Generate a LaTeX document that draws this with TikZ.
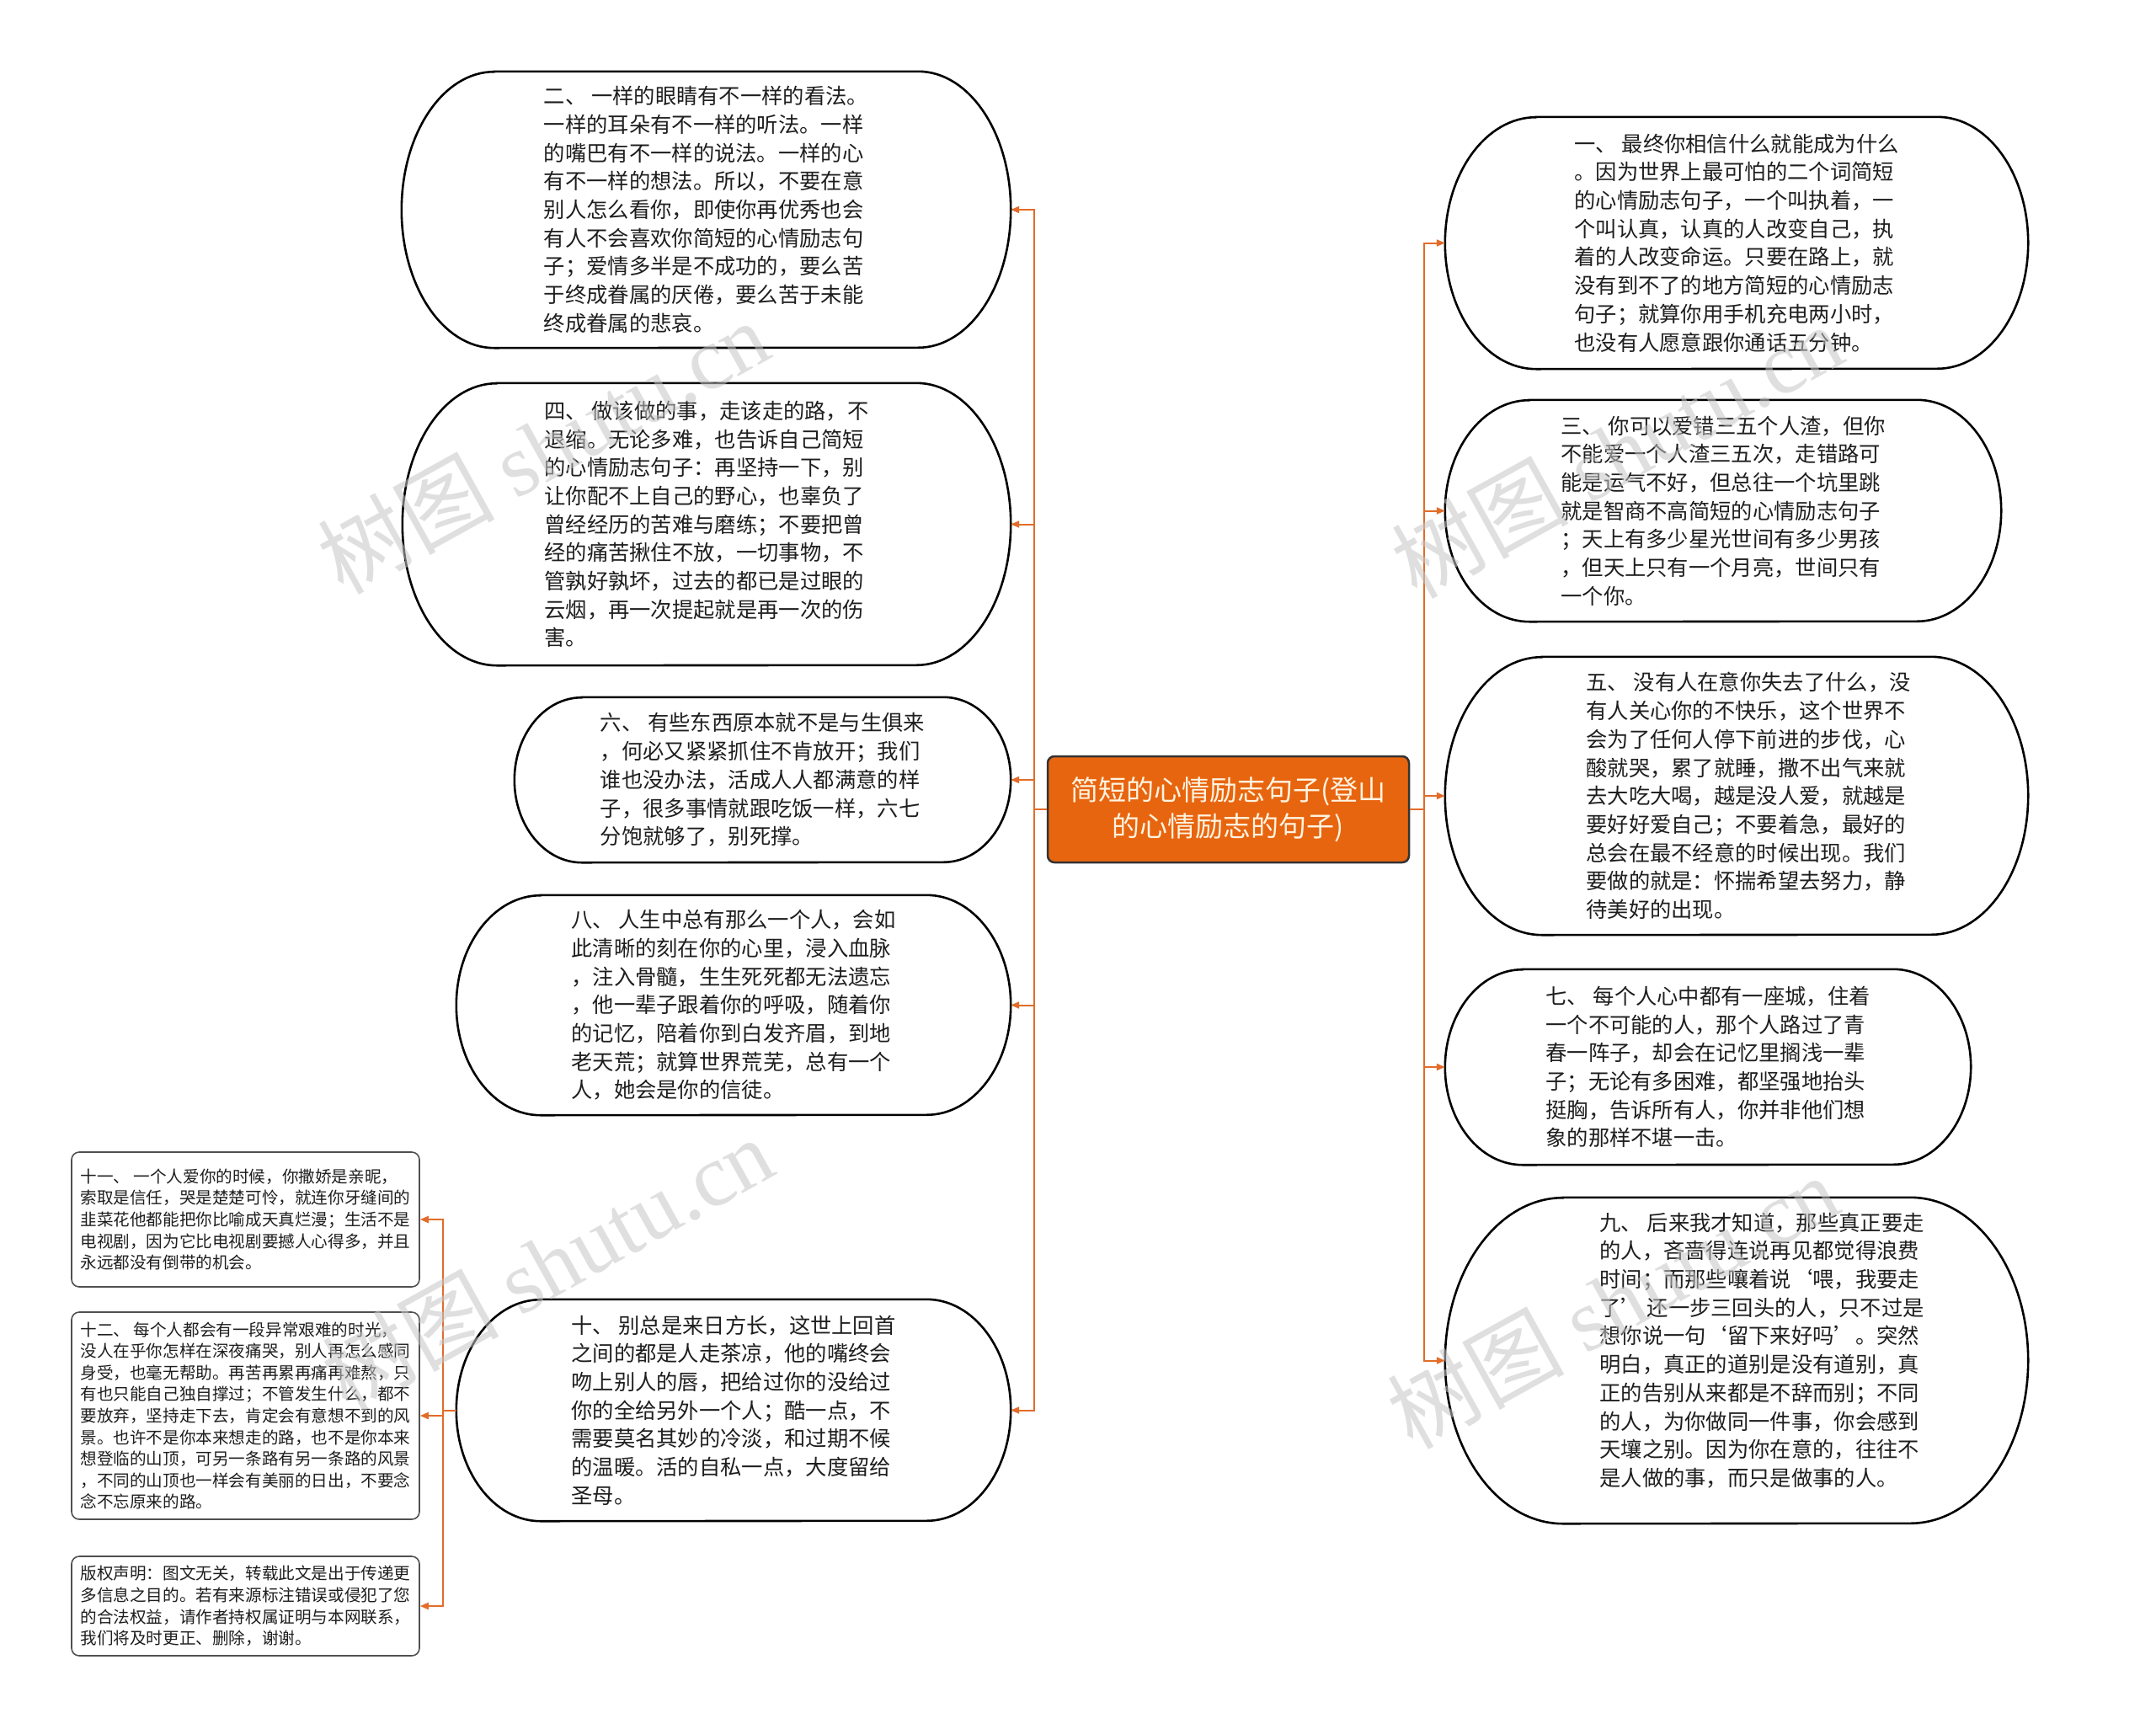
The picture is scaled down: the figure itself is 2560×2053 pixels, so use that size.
\documentclass[tikz,border=0pt]{standalone}
\usepackage{fontspec}
\setmainfont{Noto Sans CJK SC}
\newfontfamily\wmfont{Liberation Serif}
\usetikzlibrary{arrows.meta}
\definecolor{conncol}{RGB}{226,108,40}
\definecolor{corange}{RGB}{232,101,15}
\definecolor{ctext}{RGB}{255,244,225}
\definecolor{txt}{RGB}{30,30,30}
\definecolor{boxline}{RGB}{80,80,80}
\newcommand{\stadium}[3]{%
  \draw[stadline] ([xshift=#2pt]#1.north west) -- ([xshift=-#2pt]#1.north east)
    arc[start angle=90,end angle=-90,x radius=#2pt,y radius=#3pt]
    -- ([xshift=#2pt]#1.south west)
    arc[start angle=270,end angle=90,x radius=#2pt,y radius=#3pt] -- cycle;}
\begin{document}
\begin{tikzpicture}[x=1pt,y=1pt,
  conn/.style={draw=conncol,line width=2pt,-{Triangle[length=10pt,width=8pt]}},
  stadline/.style={draw=black,line width=2.6pt},
  stadnode/.style={inner sep=0pt,align=left,text=txt,font=\fontsize{25.3}{33.7}\selectfont},
  smallbox/.style={draw=boxline,line width=1.6pt,rounded corners=9pt,inner sep=0pt,align=left,text=txt,font=\fontsize{19.6}{25.6}\selectfont},
  centernode/.style={draw=black!80,fill=corange,line width=2.5pt,rounded corners=8pt,inner sep=0pt,align=center,text=ctext,font=\fontsize{33}{43}\selectfont},
  wm/.style={text=gray!45,opacity=0.55,inner sep=0pt,font=\fontsize{105}{105}\selectfont}]
\useasboundingbox (0,0) rectangle (2560,-2053);
\fill[white] (0,0) rectangle (2560,-2053);

% center
\node[centernode,minimum width=429pt,minimum height=126pt] (c) at (1458.5,-961) {简短的心情励志句子(登山\\的心情励志的句子)};

% left nodes
\node[stadnode,minimum width=723pt,minimum height=328pt] (n2) at (838.5,-249) {二、 一样的眼睛有不一样的看法。\\一样的耳朵有不一样的听法。一样\\的嘴巴有不一样的说法。一样的心\\有不一样的想法。所以，不要在意\\别人怎么看你，即使你再优秀也会\\有人不会喜欢你简短的心情励志句\\子；爱情多半是不成功的，要么苦\\于终成眷属的厌倦，要么苦于未能\\终成眷属的悲哀。};
\stadium{n2}{110}{164}

\node[stadnode,minimum width=722pt,minimum height=335pt] (n4) at (839,-622.5) {四、 做该做的事，走该走的路，不\\退缩。无论多难，也告诉自己简短\\的心情励志句子：再坚持一下，别\\让你配不上自己的野心，也辜负了\\曾经经历的苦难与磨练；不要把曾\\经的痛苦揪住不放，一切事物，不\\管孰好孰坏，过去的都已是过眼的\\云烟，再一次提起就是再一次的伤\\害。};
\stadium{n4}{112}{167.5}

\node[stadnode,minimum width=589pt,minimum height=196pt] (n6) at (905.5,-926) {六、 有些东西原本就不是与生俱来\\，何必又紧紧抓住不肯放开；我们\\谁也没办法，活成人人都满意的样\\子，很多事情就跟吃饭一样，六七\\分饱就够了，别死撑。};
\stadium{n6}{80}{98}

\node[stadnode,minimum width=658pt,minimum height=261pt] (n8) at (871,-1193.5) {八、 人生中总有那么一个人，会如\\此清晰的刻在你的心里，浸入血脉\\，注入骨髓，生生死死都无法遗忘\\，他一辈子跟着你的呼吸，随着你\\的记忆，陪着你到白发齐眉，到地\\老天荒；就算世界荒芜，总有一个\\人，她会是你的信徒。};
\stadium{n8}{100}{130.5}

\node[stadnode,minimum width=658pt,minimum height=263pt] (n10) at (871,-1674.5) {十、 别总是来日方长，这世上回首\\之间的都是人走茶凉，他的嘴终会\\吻上别人的唇，把给过你的没给过\\你的全给另外一个人；酷一点，不\\需要莫名其妙的冷淡，和过期不候\\的温暖。活的自私一点，大度留给\\圣母。};
\stadium{n10}{100}{131.5}

% small boxes
\node[smallbox,minimum width=413pt,minimum height=160pt] (b11) at (291.5,-1448) {十一、 一个人爱你的时候，你撒娇是亲昵，\\索取是信任，哭是楚楚可怜，就连你牙缝间的\\韭菜花他都能把你比喻成天真烂漫；生活不是\\电视剧，因为它比电视剧要撼人心得多，并且\\永远都没有倒带的机会。};
\node[smallbox,minimum width=413pt,minimum height=246pt] (b12) at (291.5,-1681) {十二、 每个人都会有一段异常艰难的时光，\\没人在乎你怎样在深夜痛哭，别人再怎么感同\\身受，也毫无帮助。再苦再累再痛再难熬，只\\有也只能自己独自撑过；不管发生什么，都不\\要放弃，坚持走下去，肯定会有意想不到的风\\景。也许不是你本来想走的路，也不是你本来\\想登临的山顶，可另一条路有另一条路的风景\\，不同的山顶也一样会有美丽的日出，不要念\\念不忘原来的路。};
\node[smallbox,minimum width=413pt,minimum height=118pt] (bc) at (291.5,-1907) {版权声明：图文无关，转载此文是出于传递更\\多信息之目的。若有来源标注错误或侵犯了您\\的合法权益，请作者持权属证明与本网联系，\\我们将及时更正、删除，谢谢。};

% right nodes
\node[stadnode,minimum width=692pt,minimum height=299pt] (n1) at (2062,-288.5) {一、 最终你相信什么就能成为什么\\。因为世界上最可怕的二个词简短\\的心情励志句子，一个叫执着，一\\个叫认真，认真的人改变自己，执\\着的人改变命运。只要在路上，就\\没有到不了的地方简短的心情励志\\句子；就算你用手机充电两小时，\\也没有人愿意跟你通话五分钟。};
\stadium{n1}{108}{149.5}

\node[stadnode,minimum width=660pt,minimum height=263pt] (n3) at (2046,-606.5) {三、 你可以爱错三五个人渣，但你\\不能爱一个人渣三五次，走错路可\\能是运气不好，但总往一个坑里跳\\就是智商不高简短的心情励志句子\\；天上有多少星光世间有多少男孩\\，但天上只有一个月亮，世间只有\\一个你。};
\stadium{n3}{100}{131.5}

\node[minimum width=692pt,minimum height=330pt,inner sep=0pt] (n5) at (2062,-945) {};
\node[stadnode] (n5t) at ([xshift=14pt]n5.center) {五、 没有人在意你失去了什么，没\\有人关心你的不快乐，这个世界不\\会为了任何人停下前进的步伐，心\\酸就哭，累了就睡，撒不出气来就\\去大吃大喝，越是没人爱，就越是\\要好好爱自己；不要着急，最好的\\总会在最不经意的时候出现。我们\\要做的就是：怀揣希望去努力，静\\待美好的出现。};
\stadium{n5}{115}{165}

\node[stadnode,minimum width=624pt,minimum height=232pt] (n7) at (2028,-1267) {七、 每个人心中都有一座城，住着\\一个不可能的人，那个人路过了青\\春一阵子，却会在记忆里搁浅一辈\\子；无论有多困难，都坚强地抬头\\挺胸，告诉所有人，你并非他们想\\象的那样不堪一击。};
\stadium{n7}{92}{116}

\node[minimum width=692pt,minimum height=387pt,inner sep=0pt] (n9) at (2062,-1615.5) {};
\node[stadnode] (n9t) at ([xshift=30pt,yshift=12pt]n9.center) {九、 后来我才知道，那些真正要走\\的人，吝啬得连说再见都觉得浪费\\时间；而那些嚷着说‘喂，我要走\\了’ 还一步三回头的人，只不过是\\想你说一句‘留下来好吗’。突然\\明白，真正的道别是没有道别，真\\正的告别从来都是不辞而别；不同\\的人，为你做同一件事，你会感到\\天壤之别。因为你在意的，往往不\\是人做的事，而只是做事的人。};
\stadium{n9}{140}{193.5}

% connectors
\coordinate (lj) at (1228,-961);
\coordinate (rj) at (1691,-961);
\coordinate (sj) at (526,-1674.5);
\foreach \n in {n2,n4,n6,n8,n10} \draw[conn] (c.west) -- (lj) |- (\n.east);
\foreach \n in {n1,n3,n5,n7,n9} \draw[conn] (c.east) -- (rj) |- (\n.west);
\foreach \n in {b11,b12,bc} \draw[conn] (n10.west) -- (sj) |- (\n.east);

% watermarks
\node[wm,rotate=29] (wm1) at (645,-530) {树图 {\wmfont shutu.cn}};
\node[wm,rotate=29] (wm2) at (1920,-535) {树图 {\wmfont shutu.cn}};
\node[wm,rotate=29] (wm3) at (650,-1500) {树图 {\wmfont shutu.cn}};
\node[wm,rotate=29] (wm4) at (1915,-1545) {树图 {\wmfont shutu.cn}};
\end{tikzpicture}
\end{document}
